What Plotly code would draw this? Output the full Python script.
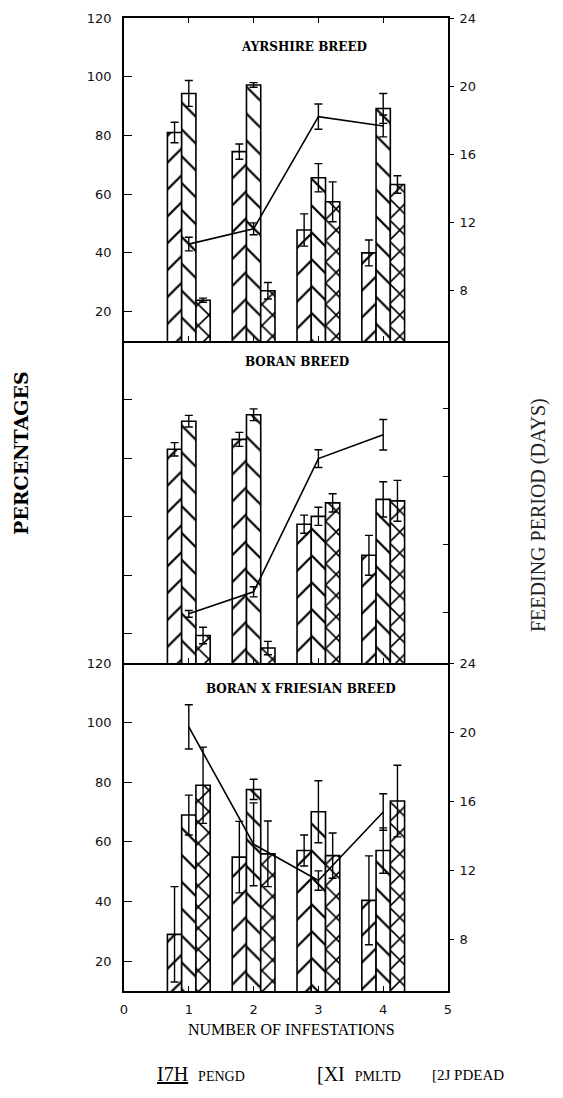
import plotly.graph_objects as go

# ---------------- data ----------------
infestations = [1, 2, 3, 4]
x_ticks = [0, 1, 2, 3, 4, 5]
pct_ticks = [20, 40, 60, 80, 100, 120]
day_ticks = [8, 12, 16, 20, 24]

breeds = ["AYRSHIRE BREED", "BORAN BREED", "BORAN X FRIESIAN BREED"]

ayr_pengd = [81.0, 74.5, 47.8, 40.0]
ayr_pengd_err = [3.5, 2.6, 5.5, 4.4]
ayr_pmltd = [94.3, 97.2, 65.6, 89.2]
ayr_pmltd_err = [4.4, 0.8, 4.8, 5.1]
ayr_pdead = [23.9, 27.1, 57.4, 63.3]
ayr_pdead_err = [0.7, 2.8, 6.8, 3.0]
ayr_feed = [10.7, 11.6, 18.2, 17.65]
ayr_feed_err = [0.4, 0.35, 0.74, 0.64]

bor_pengd = [83.0, 86.4, 57.4, 46.8]
bor_pengd_err = [2.3, 2.4, 3.1, 6.8]
bor_pmltd = [92.6, 94.8, 60.1, 65.9]
bor_pmltd_err = [2.0, 2.0, 3.1, 6.0]
bor_pdead = [19.4, 15.1, 64.7, 65.4]
bor_pdead_err = [2.8, 2.3, 3.1, 7.0]
bor_feed = [7.9, 9.2, 17.06, 18.47]
bor_feed_err = [0.2, 0.3, 0.52, 0.9]

bxf_pengd = [29.0, 54.9, 57.1, 40.4]
bxf_pengd_err = [16.0, 12.0, 5.2, 14.9]
bxf_pmltd = [69.0, 77.6, 70.1, 57.1]
bxf_pmltd_err = [6.7, 3.4, 10.4, 7.6]
bxf_pdead = [79.0, 56.0, 55.4, 73.7]
bxf_pdead_err = [12.8, 11.0, 7.6, 12.0]
bxf_feed = [20.3, 13.5, 11.4, 15.37]
bxf_feed_err = [1.28, 2.4, 0.56, 1.06]

panels = [
    (ayr_pengd, ayr_pengd_err, ayr_pmltd, ayr_pmltd_err, ayr_pdead, ayr_pdead_err, ayr_feed, ayr_feed_err),
    (bor_pengd, bor_pengd_err, bor_pmltd, bor_pmltd_err, bor_pdead, bor_pdead_err, bor_feed, bor_feed_err),
    (bxf_pengd, bxf_pengd_err, bxf_pmltd, bxf_pmltd_err, bxf_pdead, bxf_pdead_err, bxf_feed, bxf_feed_err),
]

# ---------------- geometry (pixels) ----------------
W, H = 563, 1098
L, R = 124, 448
T, B = 18, 991
panel_px = [(18, 341), (341, 663), (663, 991)]


def py2paper(py):
    return (B - py) / (B - T)


def px2paper(px):
    return (px - L) / (R - L)


fig = go.Figure()
patterns = [("/", 19, 0.12), ("\\", 19, 0.12), ("x", 15, 0.2)]

for i, p in enumerate(panels):
    xa = "x" if i == 0 else f"x{i + 1}"
    ya = "y" if i == 0 else f"y{2 * i + 1}"
    ya2 = f"y{2 * i + 2}"
    bars = [(p[0], p[1]), (p[2], p[3]), (p[4], p[5])]
    for j, (vals, errs) in enumerate(bars):
        shape, size, sol = patterns[j]
        fig.add_trace(go.Bar(
            x=infestations, y=vals, xaxis=xa, yaxis=ya,
            offsetgroup=str(j),
            marker=dict(color="white",
                        line=dict(color="black", width=1.6),
                        pattern=dict(shape=shape, size=size, solidity=sol,
                                     fgcolor="black", bgcolor="white",
                                     fgopacity=1)),
            error_y=dict(type="data", array=errs, color="black",
                         thickness=1.4, width=4),
            showlegend=False,
        ))
    fig.add_trace(go.Scatter(
        x=infestations, y=p[6], xaxis=xa, yaxis=ya2, mode="lines",
        line=dict(color="black", width=1.6),
        error_y=dict(type="data", array=p[7], color="black",
                     thickness=1.4, width=4),
        showlegend=False,
    ))

tickfont = dict(family="DejaVu Sans", size=13, color="#111")
layout = dict(
    width=W, height=H,
    margin=dict(l=L, r=W - R, t=T, b=H - B, pad=0),
    paper_bgcolor="white", plot_bgcolor="rgba(0,0,0,0)",
    barmode="group", bargap=0.34, bargroupgap=0,
    showlegend=False,
)

for i, (top, bot) in enumerate(panel_px):
    dom = [py2paper(bot), py2paper(top)]
    xkey = "xaxis" if i == 0 else f"xaxis{i + 1}"
    ykey = "yaxis" if i == 0 else f"yaxis{2 * i + 1}"
    y2key = f"yaxis{2 * i + 2}"
    yname = "y" if i == 0 else f"y{2 * i + 1}"
    xname = "x" if i == 0 else f"x{i + 1}"
    labeled = i != 1
    last = i == 2
    layout[xkey] = dict(
        domain=[0, 1], anchor=yname, range=[0, 5],
        tickvals=x_ticks if last else infestations,
        ticks="inside", ticklen=5, tickwidth=1.3, tickcolor="black",
        showticklabels=last, tickfont=tickfont, ticklabelstandoff=6,
        showline=True, linecolor="black", linewidth=1.5,
        mirror="ticks" if i == 0 else False,
        showgrid=False, zeroline=False, fixedrange=True,
    )
    layout[ykey] = dict(
        domain=dom, anchor=xname, range=[10, 120],
        tickvals=pct_ticks, ticks="inside", ticklen=8, tickwidth=1.3,
        tickcolor="black", showticklabels=labeled, tickfont=tickfont,
        ticklabelstandoff=8,
        showline=True, linecolor="black", linewidth=1.5, mirror=True,
        showgrid=False, zeroline=False,
    )
    layout[y2key] = dict(
        overlaying=yname, anchor=xname, side="right", range=[5, 24],
        tickvals=day_ticks, ticks="outside" if labeled else "inside",
        ticklen=5, tickwidth=1.3, tickcolor="black",
        showticklabels=labeled, tickfont=tickfont, ticklabelstandoff=3,
        showline=False, showgrid=False, zeroline=False,
    )

title_y = [0.91, 0.935, 0.92]
annotations = []
for i, name in enumerate(breeds):
    yname = "y" if i == 0 else f"y{2 * i + 1}"
    annotations.append(dict(
        text=name, xref="paper", yref=f"{yname} domain",
        x=px2paper([304, 297, 301][i]), y=title_y[i],
        showarrow=False, xanchor="center", yanchor="middle",
        font=dict(family="DejaVu Serif", size=12, color="black", weight="bold"),
    ))

annotations += [
    dict(text="PERCENTAGES", xref="paper", yref="paper",
         x=px2paper(21), y=py2paper(453), textangle=-90, showarrow=False,
         xanchor="center", yanchor="middle",
         font=dict(family="DejaVu Serif", size=19, color="black", weight="bold")),
    dict(text="FEEDING PERIOD (DAYS)", xref="paper", yref="paper",
         x=px2paper(538), y=py2paper(515), textangle=-90, showarrow=False,
         xanchor="center", yanchor="middle",
         font=dict(family="Liberation Serif", size=20, color="#222")),
    dict(text="NUMBER OF INFESTATIONS", xref="paper", yref="paper",
         x=px2paper(291), y=py2paper(1029), showarrow=False,
         xanchor="center", yanchor="middle",
         font=dict(family="Liberation Serif", size=16, color="black")),
    dict(text="<u>I7H</u>  <span style='font-size:14px'>PENGD</span>",
         xref="paper", yref="paper", x=px2paper(155), y=py2paper(1074),
         showarrow=False, xanchor="left", yanchor="middle",
         font=dict(family="Liberation Serif", size=20, color="black")),
    dict(text="[XI  <span style='font-size:14px'>PMLTD</span>",
         xref="paper", yref="paper", x=px2paper(315), y=py2paper(1074),
         showarrow=False, xanchor="left", yanchor="middle",
         font=dict(family="Liberation Serif", size=20, color="black")),
    dict(text="[2J PDEAD",
         xref="paper", yref="paper", x=px2paper(430), y=py2paper(1075),
         showarrow=False, xanchor="left", yanchor="middle",
         font=dict(family="Liberation Serif", size=15, color="black")),
]
layout["annotations"] = annotations

fig.update_layout(**layout)
fig.write_html("out.html")
